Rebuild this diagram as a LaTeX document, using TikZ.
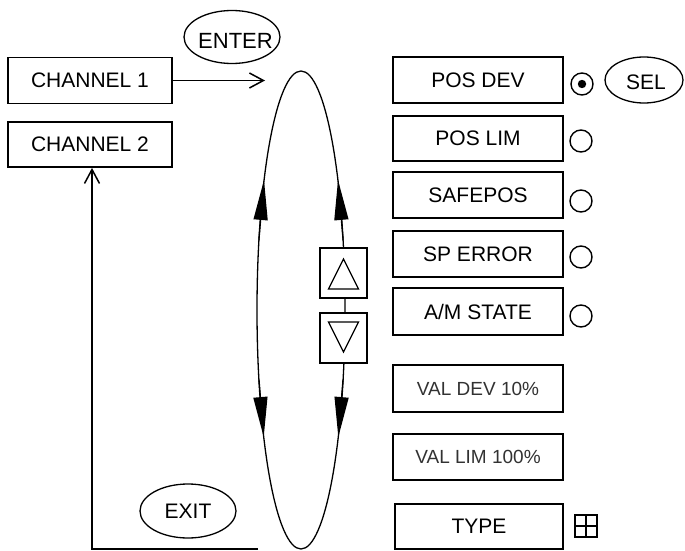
\documentclass[tikz,border=0pt]{standalone}
\usepackage{fontspec}
\setmainfont{Liberation Sans}
\usetikzlibrary{arrows.meta,shapes.geometric,calc}
\definecolor{valgray}{RGB}{50,50,50}
\begin{document}
\begin{tikzpicture}[x=1pt,y=-1pt,
  menubox/.style={draw, line width=1.8pt, minimum width=170pt, minimum height=46pt, inner sep=0pt, font=\fontsize{21}{24}\selectfont},
  chbox/.style={menubox, minimum width=164pt},
  valbox/.style={menubox, font=\fontsize{19}{22}\selectfont, text=valgray},
  keybox/.style={draw, line width=1.8pt, fill=white, minimum width=47pt, minimum height=50pt, inner sep=0pt},
  keyoval/.style={draw, ellipse, line width=1.3pt, inner sep=0pt, font=\fontsize{21}{24}\selectfont},
  keytext/.style={inner sep=0pt, font=\fontsize{21}{24}\selectfont},
  radio/.style={draw, circle, line width=1.4pt, minimum size=22pt, inner sep=0pt},
  loopline/.style={line width=1.3pt},
  looparrow/.style={loopline, -{Triangle[length=40pt,width=14pt]}},
  openarrow/.style={line width=1.5pt, -{Straight Barb[length=14pt,width=15pt]}}
]
\useasboundingbox (0,0) rectangle (685,551);

% left channel boxes
\node[chbox] (ch1) at (90,80.5) {CHANNEL 1};
\node[chbox, minimum height=45pt] (ch2) at (90,144.5) {CHANNEL 2};

% key ovals
\node[keyoval, minimum width=96pt, minimum height=53pt] (enter) at (232,37) {};
\node[keytext, font=\fontsize{22}{24}\selectfont] (entertext) at (235.5,40.5) {ENTER};
\node[keyoval, minimum width=96pt, minimum height=54pt] (exit) at (188,511) {EXIT};
\node[keyoval, minimum width=78pt, minimum height=46pt] (sel) at (644,80) {};
\node[keytext] (seltext) at (646,82.5) {SEL};

% selection loop
\node[draw, ellipse, loopline, minimum width=88pt, minimum height=478pt, inner sep=0pt] (loop) at (301,310) {};
\draw[looparrow] (258.9,240) -- (264,180);
\draw[looparrow] (343.1,240) -- (338,180);
\draw[looparrow] (259.0,380) -- (263.7,437);
\draw[looparrow] (343.0,380) -- (338.3,437);

% up / down keys
\node[keybox] (up) at (343.5,273) {};
\node[keybox] (down) at (343.5,338) {};
\draw[line width=1.3pt] ($(up.center)+(0,-14)$) -- ($(up.center)+(15,16)$) -- ($(up.center)+(-15,16)$) -- cycle;
\draw[line width=1.3pt] ($(down.center)+(0,14)$) -- ($(down.center)+(15,-16)$) -- ($(down.center)+(-15,-16)$) -- cycle;

% connectors
\coordinate (entertip) at (265,80.5);
\draw[openarrow] (ch1.east) -- (entertip);
\coordinate (exitend) at (258,549);
\coordinate (corner) at (92,549);
\draw[openarrow] (exitend) -- (corner) -- (corner |- ch2.south);

% menu items
\node[menubox] (posdev) at (478,80) {POS DEV};
\node[menubox, minimum height=45pt] (poslim) at (478,138.5) {POS LIM};
\node[menubox] (safepos) at (478,195) {SAFEPOS};
\node[menubox] (sperror) at (478,254) {SP ERROR};
\node[menubox, minimum height=47pt] (amstate) at (478,311.5) {A/M STATE};
\node[valbox, minimum height=47pt] (valdev) at (478,388.5) {VAL DEV 10\%};
\node[valbox] (vallim) at (478,457) {VAL LIM 100\%};
\node[menubox, minimum width=168pt, minimum height=45pt] (type) at (479,526.5) {TYPE};

% radio buttons
\node[radio] (r1) at (582,84) {};
\fill (r1.center) circle (4.2pt);
\node[radio] (r2) at (581,141) {};
\node[radio] (r3) at (581,201) {};
\node[radio] (r4) at (581,257) {};
\node[radio] (r5) at (581,316) {};

% type icon
\node[draw, line width=1.6pt, minimum size=22pt, inner sep=0pt] (typeicon) at (586,526) {};
\draw[line width=1.6pt] (typeicon.north) -- (typeicon.south);
\draw[line width=1.6pt] (typeicon.west) -- (typeicon.east);
\end{tikzpicture}
\end{document}
